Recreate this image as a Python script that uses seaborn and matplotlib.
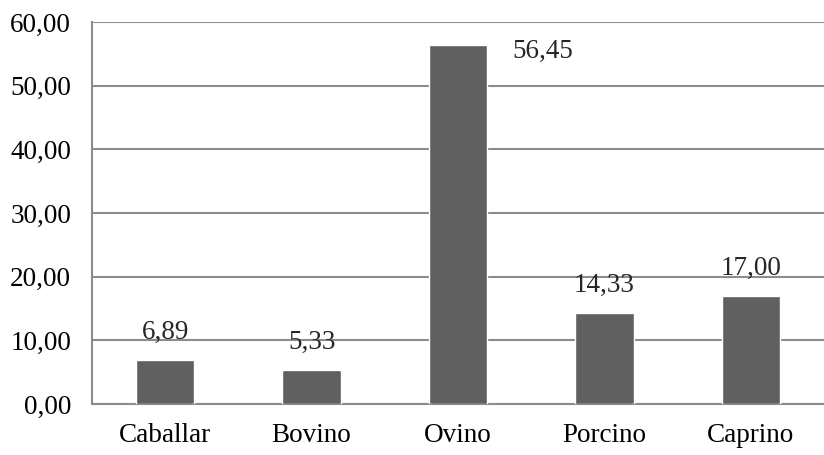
import matplotlib
matplotlib.use("Agg")
import matplotlib.pyplot as plt
import seaborn as sns
import pandas as pd

# data
categories = ["Caballar", "Bovino", "Ovino", "Porcino", "Caprino"]
values = [6.89, 5.33, 56.45, 14.33, 17.00]
y_ticks = [0, 10, 20, 30, 40, 50, 60]

df = pd.DataFrame({"especie": categories, "valor": values})

sns.set_style("white")
plt.rcParams["font.family"] = ["Liberation Serif", "DejaVu Serif"]

fig = plt.figure(figsize=(8.24, 4.55), dpi=100)
ax = fig.add_axes([92 / 824, 51 / 455, 1 - 92 / 824, 382 / 455])

sns.barplot(data=df, x="especie", y="valor", color="#606060",
            saturation=1, width=0.4, ax=ax, zorder=3)

ax.set_ylim(0, 60)
ax.set_yticks(y_ticks)
ax.set_yticklabels([f"{t:.2f}".replace(".", ",") for t in y_ticks])
ax.yaxis.grid(True, color="#8c8c8c", linewidth=1.5, zorder=0)
ax.set_axisbelow(True)
ax.tick_params(axis="both", length=0, labelsize=19.5, colors="black")
ax.tick_params(axis="y", pad=15)
ax.tick_params(axis="x", pad=14)
ax.set_xlabel("")
ax.set_ylabel("")

for side in ["top", "right"]:
    ax.spines[side].set_visible(False)
for side in ["left", "bottom"]:
    ax.spines[side].set_color("#8c8c8c")
    ax.spines[side].set_linewidth(1.5)

# data labels
for i, v in enumerate(values):
    txt = f"{v:.2f}".replace(".", ",")
    if v > 50:
        ax.annotate(txt, (i, v), xytext=(61, -5), textcoords="offset points",
                    ha="center", va="center", fontsize=19.5)
    else:
        ax.annotate(txt, (i, v), xytext=(0, 20), textcoords="offset points",
                    ha="center", va="center", fontsize=19.5)

fig.savefig("out.png", dpi=100)
